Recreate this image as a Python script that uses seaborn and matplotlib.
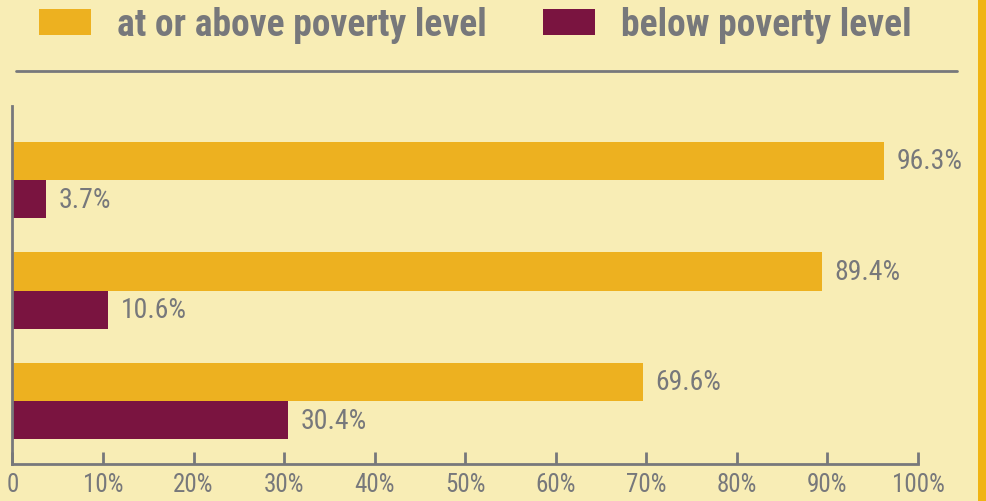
import matplotlib
matplotlib.use('Agg')
import matplotlib.pyplot as plt
import seaborn as sns
import pandas as pd
from matplotlib import font_manager
from matplotlib.lines import Line2D
from matplotlib.patches import Rectangle

# 데이터
groups = ['group 1', 'group 2', 'group 3']
above = [96.3, 89.4, 69.6]
below = [3.7, 10.6, 30.4]
series = ['at or above poverty level', 'below poverty level']
ticks = [0, 10, 20, 30, 40, 50, 60, 70, 80, 90, 100]
tick_labels = ['0'] + ['{}%'.format(t) for t in ticks[1:]]

df = pd.DataFrame({
    'group': groups * 2,
    'status': [series[0]] * 3 + [series[1]] * 3,
    'share': above + below,
})

bg = '#F8EDB5'
gold = '#EDB120'
maroon = '#7A1440'
grey = '#77787B'

sns.set_theme(style='white')

# 좁은 글꼴 찾기
fonts = font_manager.fontManager.ttflist
cands = ['Roboto Condensed', 'PT Sans Narrow', 'Archivo Narrow', 'Barlow Semi Condensed',
         'Barlow Condensed', 'Encode Sans Condensed', 'Liberation Sans Narrow', 'Arimo']
names = {f.name for f in fonts}
narrow = next((c for c in cands if c in names), 'DejaVu Sans')
narrow_bold = next((c for c in cands
                    if any(f.name == c and f.weight in (700, 'bold') for f in fonts)), narrow)
plt.rcParams['font.family'] = [narrow, 'DejaVu Sans']

fig = plt.figure(figsize=(9.87, 5.02), dpi=100, facecolor=bg)
ax = fig.add_axes([12.5 / 987, 37 / 502, (918 - 12.5) / 987, 358 / 502])
ax.set_facecolor(bg)

sns.barplot(data=df, y='group', x='share', hue='status', orient='h',
            palette=[gold, maroon], width=0.69, saturation=1, linewidth=0,
            ax=ax, legend=True)

for c in ax.containers:
    ax.bar_label(c, labels=['{:.1f}%'.format(v) for v in c.datavalues],
                 padding=9, fontsize=20, color=grey)

ax.set_xlim(0, 100)
ax.set_ylim(2.57, -0.67)
ax.set_xticks(ticks)
ax.set_xticklabels(tick_labels, fontsize=18, color=grey)
ax.set_yticks([])
ax.set_xlabel('')
ax.set_ylabel('')
ax.tick_params(axis='x', direction='in', length=9, width=2, color=grey, pad=6, bottom=True)
for s in ['top', 'right']:
    ax.spines[s].set_visible(False)
for s in ['left', 'bottom']:
    ax.spines[s].set_color(grey)
    ax.spines[s].set_linewidth(2)

handles, labels = ax.get_legend_handles_labels()
ax.get_legend().remove()
fig.legend(handles, labels, loc='center left', bbox_to_anchor=(39 / 987, 1 - 26 / 502),
           ncol=2, frameon=False, handlelength=1.39, handleheight=0.69,
           handletextpad=0.69, columnspacing=1.49, borderaxespad=0, borderpad=0,
           prop={'family': [narrow_bold, 'DejaVu Sans'], 'weight': 'bold', 'size': 27},
           labelcolor=grey)

fig.add_artist(Line2D([16 / 987, 957 / 987], [1 - 72 / 502] * 2, color=grey, lw=2))
fig.add_artist(Rectangle((978 / 987, 0), 9 / 987, 1, transform=fig.transFigure,
                         color='#F0B414', lw=0))

plt.savefig('out.png', dpi=100, facecolor=bg)
